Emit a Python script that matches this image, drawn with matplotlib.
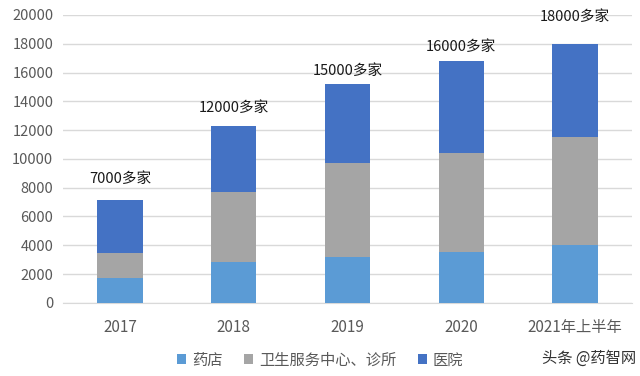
import numpy as np
import matplotlib.pyplot as plt

plt.rcParams['font.family'] = ['Noto Sans CJK SC', 'DejaVu Sans']

years = ['2017', '2018', '2019', '2020', '2021年上半年']
pharmacy = [1750, 2850, 3200, 3550, 4000]
clinic = [1700, 4830, 6530, 6880, 7520]
hospital = [3700, 4620, 5460, 6370, 6440]
total_labels = ['7000多家', '12000多家', '15000多家', '16000多家', '18000多家']

# label gap above each bar, in pixels (hand placed in the original)
label_gap = [21, 18, 13, 14, 27]

fig = plt.figure(figsize=(6.4, 3.76), dpi=100)
ax = fig.add_axes([63 / 640, 73.2 / 376, 569 / 640, 287.8 / 376])

x = np.arange(len(years))
w = 0.4
p = np.array(pharmacy)
c = np.array(clinic)
h = np.array(hospital)

ax.bar(x, p, w, color='#5B9BD5', label='药店', zorder=3)
ax.bar(x, c, w, bottom=p, color='#A5A5A5', label='卫生服务中心、诊所', zorder=3)
ax.bar(x, h, w, bottom=p + c, color='#4472C4', label='医院', zorder=3)

tops = p + c + h
for xi, t, lab, g in zip(x, tops, total_labels, label_gap):
    ax.annotate(lab, (xi, t), xytext=(0, g), textcoords='offset pixels',
                ha='center', va='center', fontsize=10.5, color='#1a1a1a')

ax.set_xlim(-0.5, len(years) - 0.5)
ax.set_ylim(0, 20000)
ax.set_yticks(np.arange(0, 20001, 2000))
ax.set_xticks(x)
ax.set_xticklabels(years)
ax.tick_params(axis='both', length=0, colors='#595959')
ax.tick_params(axis='x', pad=12, labelsize=11)
ax.tick_params(axis='y', pad=7, labelsize=10.5)
ax.grid(axis='y', color='#D9D9D9', linewidth=1, zorder=0)
for s in ['top', 'right', 'left']:
    ax.spines[s].set_visible(False)
ax.spines['bottom'].set_color('#D9D9D9')

fig.legend(loc='center', bbox_to_anchor=(320 / 640, 1 - 360 / 376), ncol=3,
           frameon=False, fontsize=11, handlelength=0.6, handleheight=0.6,
           handletextpad=0.4, columnspacing=1.4, labelcolor='#595959')

fig.text(636 / 640, 1 - 358 / 376, '头条 @药智网', ha='right', va='center',
         fontsize=11, color='#333333')

fig.savefig('out.png', dpi=100)
